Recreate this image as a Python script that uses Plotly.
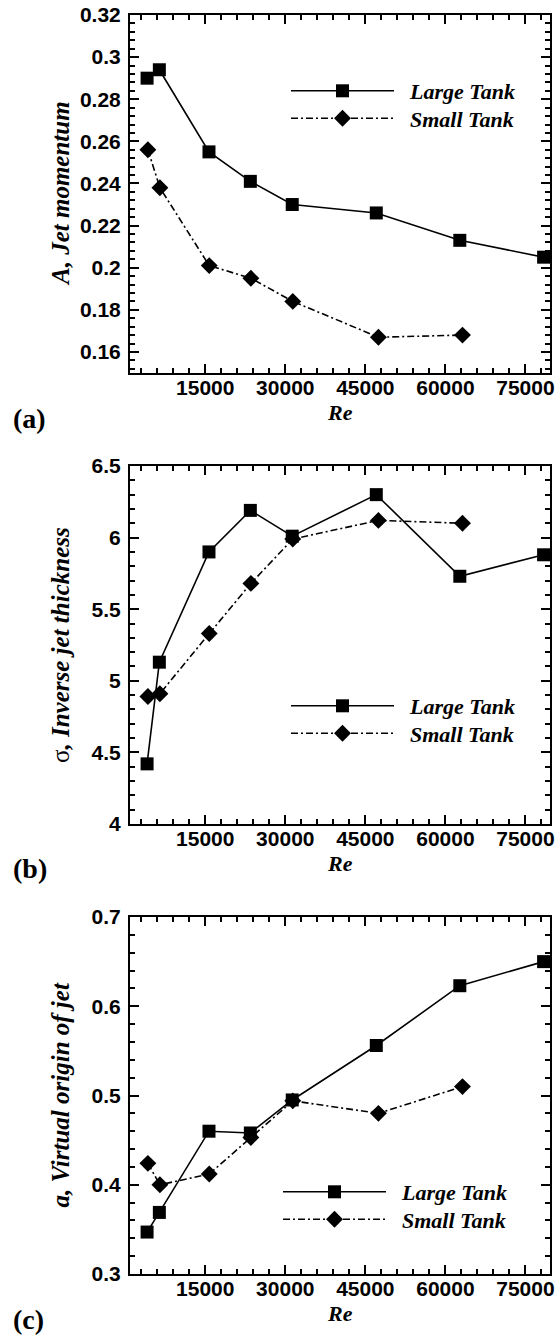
import plotly.graph_objects as go

# ---------------- data ----------------
re_large = [4100, 6400, 15700, 23450, 31300, 47050, 62700, 78400]
re_small = [4250, 6500, 15750, 23550, 31400, 47450, 63200]

A_large = [0.290, 0.294, 0.255, 0.241, 0.230, 0.226, 0.213, 0.205]
A_small = [0.256, 0.238, 0.201, 0.195, 0.184, 0.167, 0.168]

sigma_large = [4.42, 5.13, 5.90, 6.19, 6.01, 6.30, 5.73, 5.88]
sigma_small = [4.89, 4.91, 5.33, 5.68, 5.99, 6.12, 6.10]

a_large = [0.347, 0.369, 0.460, 0.458, 0.495, 0.556, 0.623, 0.650]
a_small = [0.424, 0.400, 0.412, 0.453, 0.494, 0.480, 0.510]

series_names = ["Large Tank", "Small Tank"]

x_tickvals = [15000, 30000, 45000, 60000, 75000]
x_ticktext = ["15000", "30000", "45000", "60000", "75000"]

ya_tickvals = [0.16, 0.18, 0.20, 0.22, 0.24, 0.26, 0.28, 0.30, 0.32]
ya_ticktext = ["0.16", "0.18", "0.2", "0.22", "0.24", "0.26", "0.28", "0.3", "0.32"]
yb_tickvals = [4.0, 4.5, 5.0, 5.5, 6.0, 6.5]
yb_ticktext = ["4", "4.5", "5", "5.5", "6", "6.5"]
yc_tickvals = [0.3, 0.4, 0.5, 0.6, 0.7]
yc_ticktext = ["0.3", "0.4", "0.5", "0.6", "0.7"]

y_titles = ["<i>A, Jet momentum</i>",
            "<span style='font-weight:normal'>σ</span><i>, Inverse jet thickness</i>",
            "<i>a, Virtual origin of jet</i>"]
panel_labels = ["(a)", "(b)", "(c)"]
x_title = "<i>Re</i>"

# ---------------- layout geometry ----------------
W, H = 556, 1336
X0, X1 = 130, 550
frames = [(15, 373), (466, 824), (917, 1274)]
x_range = [900, 79600]
y_ranges = [[0.15, 0.32], [4.0, 6.5], [0.3, 0.7]]
y_minor = [0.004, 0.1, 0.02]
y_ticks = [(ya_tickvals, ya_ticktext), (yb_tickvals, yb_ticktext), (yc_tickvals, yc_ticktext)]
legend_rows = [(90, 117.5), (705, 732.5), (1191, 1218.5)]
legend_x0 = [286, 286, 278]

BLACK = "black"
tick_font = dict(family="Liberation Sans", size=21, color=BLACK, weight="bold")
serif_bi = dict(family="Liberation Serif", color=BLACK, weight="bold", style="italic")


def bold(lst):
    return ["<b>" + s + "</b>" for s in lst]


fig = go.Figure()
layout = dict(width=W, height=H, margin=dict(l=0, r=0, t=0, b=0),
              paper_bgcolor="white", plot_bgcolor="white", showlegend=True,
              annotations=[])

panels = [(A_large, A_small), (sigma_large, sigma_small), (a_large, a_small)]
leg_idx = 0
for i, (yl, ys) in enumerate(panels):
    n = "" if i == 0 else str(i + 1)
    for k, (xs, yv, sym, dash) in enumerate([(re_large, yl, "square", "solid"),
                                              (re_small, ys, "diamond", "7px,3px,2px,3px")]):
        leg_idx += 1
        leg = "legend" if leg_idx == 1 else "legend" + str(leg_idx)
        fig.add_trace(go.Scatter(
            x=xs, y=yv, mode="lines+markers", name="\u00a0\u00a0" + series_names[k],
            line=dict(color=BLACK, width=1.6, dash=dash),
            marker=dict(symbol=sym, size=13, color=BLACK),
            xaxis="x" + n, yaxis="y" + n, legend=leg, showlegend=True))
        layout[leg] = dict(
            x=legend_x0[i] / W, y=1 - (legend_rows[i][k] - 20) / H, xanchor="left", yanchor="top",
            xref="paper", yref="paper", bgcolor="rgba(0,0,0,0)", borderwidth=0,
            itemwidth=103, font=dict(size=22, **serif_bi), tracegroupgap=0)

for i, (top, bot) in enumerate(frames):
    n = "" if i == 0 else str(i + 1)
    xa = dict(domain=[X0 / W, X1 / W], range=x_range, anchor="y" + n,
              tickmode="array", tickvals=x_tickvals, ticktext=bold(x_ticktext),
              ticks="inside", ticklen=9, tickwidth=2, tickcolor=BLACK,
              minor=dict(dtick=3000, tick0=0, ticks="inside", ticklen=5, tickwidth=1.5, tickcolor=BLACK),
              showline=True, linewidth=2, linecolor=BLACK, mirror="ticks",
              showgrid=False, zeroline=False, tickfont=tick_font,
              ticklabelstandoff=-5, automargin=False)
    tv, tt = y_ticks[i]
    ya = dict(domain=[1 - bot / H, 1 - top / H], range=y_ranges[i], anchor="x" + n,
              tickmode="array", tickvals=tv, ticktext=bold(tt),
              ticks="inside", ticklen=9, tickwidth=2, tickcolor=BLACK,
              minor=dict(dtick=y_minor[i], tick0=0, ticks="inside", ticklen=5, tickwidth=1.5, tickcolor=BLACK),
              showline=True, linewidth=2, linecolor=BLACK, mirror="ticks",
              showgrid=False, zeroline=False, tickfont=tick_font,
              ticklabelstandoff=3, automargin=False)
    layout["xaxis" + n] = xa
    layout["yaxis" + n] = ya
    layout["annotations"].append(dict(
        text=x_title, x=(X0 + X1) / 2 / W, y=1 - (bot + 39) / H, xref="paper", yref="paper",
        xanchor="center", yanchor="middle", showarrow=False, font=dict(size=22, **serif_bi)))
    layout["annotations"].append(dict(
        text=y_titles[i], x=60 / W, y=1 - (top + bot) / 2 / H, xref="paper", yref="paper",
        xanchor="center", yanchor="middle", textangle=-90, showarrow=False,
        font=dict(size=25, family="Liberation Serif", color=BLACK, weight="bold")))
    layout["annotations"].append(dict(
        text=panel_labels[i], x=11 / W, y=1 - (bot + 45) / H, xref="paper", yref="paper",
        xanchor="left", yanchor="middle", showarrow=False,
        font=dict(size=28, family="Liberation Serif", color=BLACK, weight="bold")))

fig.update_layout(**layout)
fig.write_html("out.html")
